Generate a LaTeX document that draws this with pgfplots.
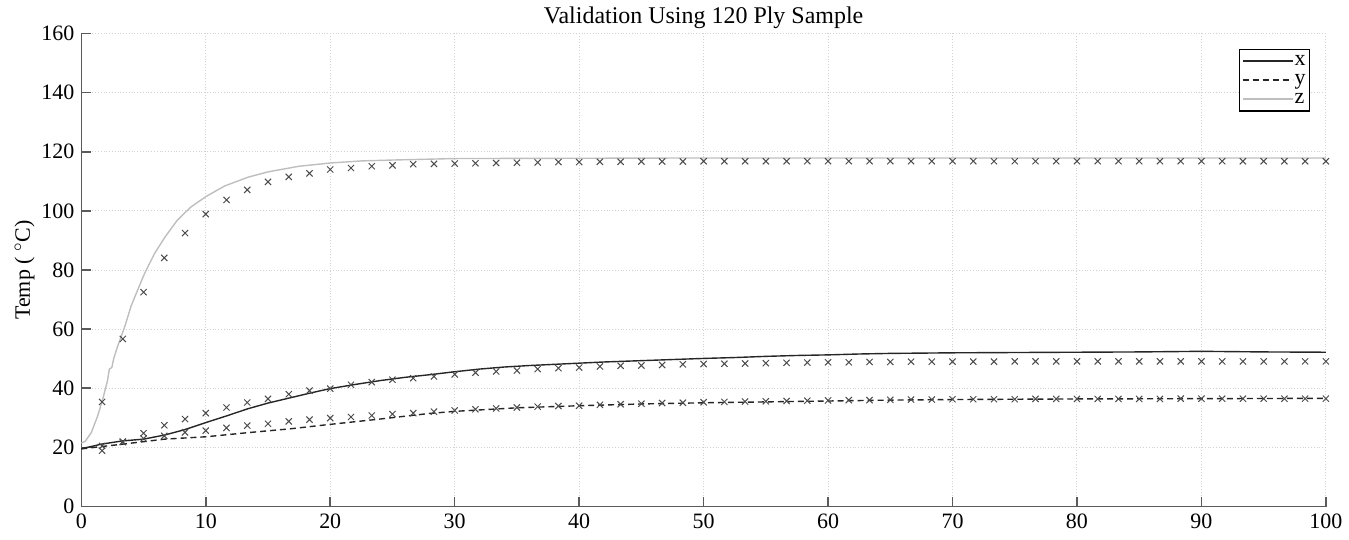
\documentclass[border=0pt]{standalone}
\usepackage{pgfplots}
\pgfplotsset{compat=1.18}
\usepackage{fontspec}
\setmainfont{Liberation Serif}

\definecolor{zgray}{RGB}{190,190,190}
\definecolor{mk}{RGB}{75,75,75}
\definecolor{ax}{RGB}{90,90,90}

% measured lines (x, y, z) and model points (crosses)
\pgfplotstableread{
t T
0 19.6
1 20.5
1.6 21.1
3.3 22.2
5 22.8
6.7 24.2
8.3 26.0
10 28.4
11.7 30.7
13.4 33.1
15 35.0
16.8 36.8
18.5 38.5
20 39.9
22 41.3
24 42.6
26 43.7
28 44.6
30 45.6
32 46.5
34 47.2
36 47.7
38 48.1
40 48.5
42 48.9
44 49.2
46 49.5
48 49.8
50 50.1
52.5 50.4
55 50.8
57.5 51.1
60 51.3
62.5 51.6
65 51.8
67.5 51.9
70 52.0
75 52.1
80 52.2
85 52.3
90 52.5
95 52.3
100 52.2
}\xline

\pgfplotstableread{
t T
0 19.5
3.3 21.1
6.7 22.8
10 23.6
13.4 25.0
16.8 26.3
20 27.8
24 29.6
28 31.5
30 32.2
35 33.4
40 34.1
45 34.7
50 35.1
55 35.4
60 35.7
65 36.0
70 36.2
80 36.4
90 36.5
100 36.6
}\yline

\pgfplotstableread{
t T
0 21.5
0.3 22.0
0.8 25.0
1.3 30.5
1.7 36.0
2.1 42.5
2.25 46.5
2.45 47.0
2.6 50.0
2.9 54.0
3.5 61.0
4.0 67.8
4.5 73.0
5.1 79.0
5.9 85.7
6.7 91.0
7.7 96.8
8.8 101.3
10 104.8
11.5 108.4
13.4 111.4
15 113.2
17.5 115.1
20 116.2
22.5 116.9
25 117.2
30 117.7
40 117.8
50 117.9
60 117.9
70 117.9
80 117.9
90 117.9
100 117.9
}\zline

\pgfplotstableread{
t xm ym zm
1.667 20.5 18.9 35.4
3.333 22.0 21.8 56.7
5.000 24.8 23.0 72.5
6.667 27.5 23.9 84.1
8.333 29.6 25.1 92.5
10.000 31.6 25.7 98.9
11.667 33.5 26.6 103.7
13.333 35.2 27.4 107.1
15.000 36.4 28.0 109.8
16.667 38.0 28.8 111.5
18.333 39.2 29.4 112.7
20.000 39.9 29.9 114.0
21.667 41.2 30.3 114.5
23.333 42.1 30.8 115.1
25.000 42.9 31.3 115.4
26.667 43.4 31.6 115.8
28.333 44.0 32.1 115.9
30.000 44.7 32.5 116.0
31.667 45.3 32.9 116.1
33.333 45.7 33.2 116.2
35.000 46.0 33.5 116.3
36.667 46.5 33.8 116.4
38.333 46.8 34.0 116.5
40.000 47.0 34.1 116.5
41.667 47.4 34.4 116.6
43.333 47.6 34.6 116.6
45.000 47.7 34.8 116.7
46.667 47.9 35.0 116.7
48.333 48.1 35.1 116.7
50.000 48.2 35.3 116.8
51.667 48.3 35.4 116.8
53.333 48.4 35.5 116.8
55.000 48.5 35.6 116.8
56.667 48.6 35.7 116.8
58.333 48.7 35.8 116.8
60.000 48.8 35.9 116.8
61.667 48.8 36.0 116.8
63.333 48.9 36.0 116.8
65.000 48.9 36.1 116.8
66.667 49.0 36.2 116.8
68.333 49.0 36.2 116.8
70.000 49.0 36.3 116.8
71.667 49.0 36.3 116.8
73.333 49.0 36.3 116.8
75.000 49.1 36.3 116.8
76.667 49.1 36.4 116.8
78.333 49.1 36.4 116.8
80.000 49.1 36.4 116.8
81.667 49.1 36.4 116.8
83.333 49.1 36.4 116.8
85.000 49.1 36.4 116.8
86.667 49.1 36.4 116.8
88.333 49.1 36.5 116.8
90.000 49.1 36.5 116.8
91.667 49.1 36.5 116.8
93.333 49.1 36.5 116.8
95.000 49.1 36.5 116.8
96.667 49.1 36.5 116.8
98.333 49.1 36.5 116.8
100.000 49.1 36.5 116.8
}\marks

\begin{document}
\begin{tikzpicture}
\begin{axis}[
  scale only axis,
  width=623.5pt, height=237pt,
  xmin=0, xmax=100, ymin=0, ymax=160,
  xtick={0,10,...,100}, ytick={0,20,...,160},
  axis x line*=bottom, axis y line*=left,
  axis line style={ax, line width=0.8pt},
  tick align=inside,
  major tick length=5pt,
  tick style={ax, line width=0.8pt},
  grid=major,
  major grid style={gray!35, densely dotted, line width=0.5pt},
  /pgf/number format/assume math mode=true,
  ticklabel style={font=\fontsize{11}{13}\selectfont},
  xticklabel style={text depth=2.5pt},
  title={Validation Using 120 Ply Sample},
  title style={font=\fontsize{12}{14}\selectfont, yshift=-7pt},
  ylabel={Temp ( $^\circ$C)},
  ylabel style={font=\fontsize{11}{13}\selectfont, inner ysep=7.3pt, yshift=-7.4pt},
  legend style={at={(0.987,0.968)}, anchor=north east,
    draw=black, line width=0.6pt, inner sep=1.2pt,
    font=\fontsize{11}{11}\selectfont,
    nodes={inner sep=0.6pt, text height=6.3pt, text depth=2pt},
    row sep=0pt},
  legend cell align=left,
  legend image code/.code={\draw[#1] (0pt,0pt) -- (25pt,0pt);},
]
\addplot[black!85, line width=0.7pt] table[x=t, y=T] {\xline};
\addlegendentry{x}
\addplot[black!85, line width=0.7pt, dash pattern=on 3pt off 2pt] table[x=t, y=T] {\yline};
\addlegendentry{y}
\addplot[zgray, line width=0.7pt] table[x=t, y=T] {\zline};
\addlegendentry{z}

\addplot[only marks, mark=x, mark size=2.2pt, mk, mark options={line width=0.5pt}, forget plot] table[x=t, y=xm] {\marks};
\addplot[only marks, mark=x, mark size=2.2pt, mk, mark options={line width=0.5pt}, forget plot] table[x=t, y=ym] {\marks};
\addplot[only marks, mark=x, mark size=2.2pt, mk, mark options={line width=0.5pt}, forget plot] table[x=t, y=zm] {\marks};
\end{axis}
\end{tikzpicture}
\end{document}
